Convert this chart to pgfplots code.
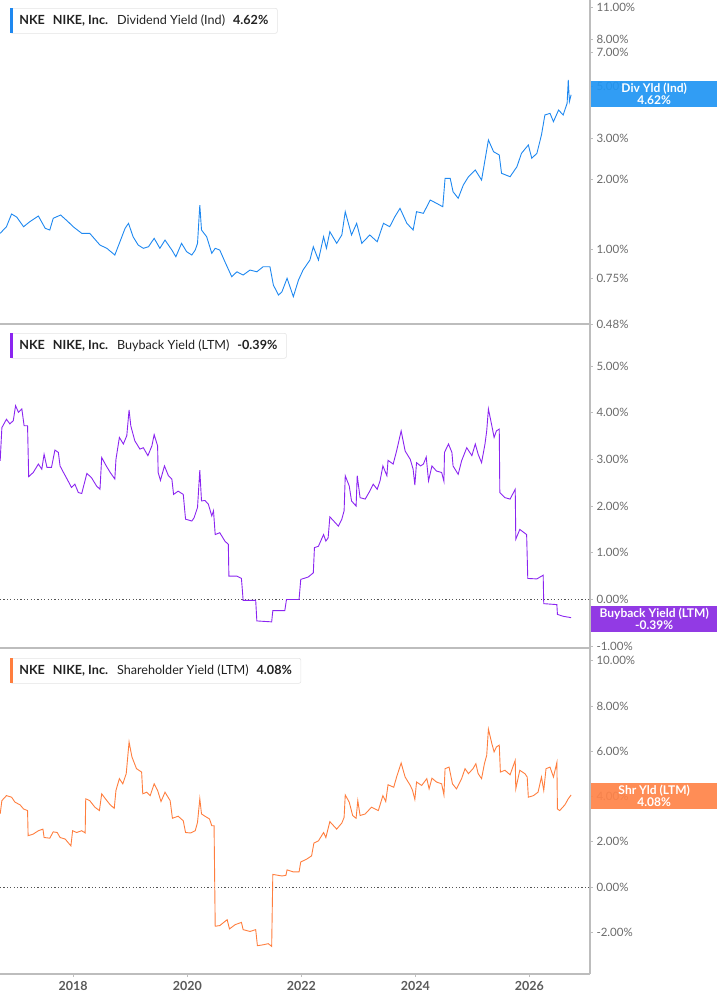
\documentclass[border=0pt]{standalone}
\usepackage{pgfplots}
\pgfplotsset{compat=1.18}
\usepackage{fontspec}
\setmainfont{Lato}

\definecolor{cdiv}{HTML}{1E88F0}
\definecolor{cdivlab}{HTML}{2196F3}
\definecolor{cbuy}{HTML}{8B25F0}
\definecolor{cbuylab}{HTML}{8A2BE2}
\definecolor{cshr}{HTML}{FF7E3E}
\definecolor{cshrlab}{HTML}{FF8449}
\definecolor{axgray}{HTML}{BDBDBD}
\definecolor{lblgray}{HTML}{6B6B6B}
\definecolor{yeargray}{HTML}{5A5A5A}
\definecolor{boxgray}{HTML}{E4E4E4}
\definecolor{txtdark}{HTML}{222222}
\definecolor{zgray}{HTML}{555555}

\pgfplotsset{
  panel/.style={
    scale only axis, width=590pt,
    xmin=2016.717, xmax=2027.061,
    axis x line*=bottom, axis y line*=right,
    axis line style={draw=axgray, line width=1.2pt},
    ytick pos=right, tick align=outside, major tick length=3pt,
    tick style={draw=axgray, line width=0.8pt},
    yticklabel style={font=\fontsize{11.5}{13}\selectfont, text=lblgray, anchor=west},
    xtick=\empty, yminorticks=false,
  },
  zero/.style={line width=0.8pt, color=zgray, dash pattern=on 1.2pt off 2.2pt},
}
\tikzset{
  legbox/.style={draw=boxgray, fill=white, rounded corners=2pt, line width=0.6pt,
    minimum height=25pt, inner xsep=9pt, inner ysep=0pt,
    font=\fontsize{12.6}{14}\selectfont, text=txtdark},
  valbox/.style={anchor=north west, inner sep=0pt, minimum width=127pt, minimum height=26pt,
    text=white, align=center, font=\bfseries\fontsize{12}{12}\selectfont, fill opacity=0.93, text opacity=1},
}

\begin{document}
\begin{tikzpicture}
\useasboundingbox (0,0) rectangle (717pt,-1005pt);

% dividend yield
\begin{axis}[panel, at={(0pt,-324pt)}, anchor=south west, height=324pt,
  ymode=log, ymin=0.48, ymax=11.79,
  ytick={0.48,0.75,1,2,3,5,7,8,11},
  yticklabels={0.48\%,0.75\%,1.00\%,2.00\%,3.00\%,5.00\%,7.00\%,8.00\%,11.00\%}]
\addplot[cdiv, line width=0.9pt] coordinates {
(2016.72,1.176)(2016.83,1.255)(2016.92,1.423)(2017.01,1.381)(2017.13,1.255)(2017.24,1.319)(2017.39,1.395)(2017.51,1.235)(2017.59,1.215)(2017.65,1.364)(2017.78,1.409)(2017.91,1.319)(2018.00,1.255)(2018.15,1.176)(2018.29,1.176)(2018.47,1.047)(2018.59,1.014)(2018.73,0.949)(2018.82,1.082)(2018.91,1.235)(2018.97,1.298)(2019.05,1.137)(2019.14,1.047)(2019.23,1.014)(2019.32,1.030)(2019.42,1.119)(2019.52,1.014)(2019.61,1.100)(2019.73,0.997)(2019.80,0.933)(2019.90,1.065)(2019.99,0.980)(2020.08,0.949)(2020.14,0.997)(2020.18,1.065)(2020.22,1.555)(2020.25,1.215)(2020.34,1.137)(2020.43,0.965)(2020.49,1.014)(2020.57,0.997)(2020.66,0.888)(2020.78,0.766)(2020.87,0.804)(2020.98,0.779)(2021.10,0.818)(2021.22,0.804)(2021.33,0.845)(2021.45,0.845)(2021.51,0.705)(2021.60,0.639)(2021.66,0.660)(2021.75,0.754)(2021.86,0.629)(2021.95,0.741)(2022.03,0.818)(2022.15,0.903)(2022.21,1.030)(2022.30,0.903)(2022.39,1.137)(2022.44,1.014)(2022.50,1.195)(2022.62,1.065)(2022.71,1.157)(2022.77,1.456)(2022.88,1.157)(2022.97,1.298)(2023.06,1.065)(2023.20,1.157)(2023.33,1.082)(2023.44,1.298)(2023.55,1.255)(2023.64,1.386)(2023.73,1.505)(2023.85,1.298)(2023.96,1.215)(2024.02,1.456)(2024.14,1.433)(2024.26,1.634)(2024.37,1.582)(2024.48,1.529)(2024.52,2.025)(2024.61,2.025)(2024.66,1.774)(2024.75,1.662)(2024.84,1.895)(2024.93,2.057)(2025.05,2.198)(2025.16,1.991)(2025.28,2.957)(2025.37,2.634)(2025.47,2.550)(2025.51,2.128)(2025.66,2.057)(2025.78,2.271)(2025.86,2.593)(2025.98,2.815)(2026.04,2.468)(2026.13,2.593)(2026.21,3.107)(2026.27,3.785)(2026.36,3.849)(2026.42,3.543)(2026.51,3.977)(2026.59,3.785)(2026.66,4.250)(2026.68,5.350)(2026.70,4.318)(2026.73,4.62)
};
\end{axis}

% buyback yield
\begin{axis}[panel, at={(0pt,-648pt)}, anchor=south west, height=324pt,
  ymin=-1.04, ymax=5.9,
  ytick={-1,0,1,2,3,4,5},
  yticklabels={-1.00\%,0.00\%,1.00\%,2.00\%,3.00\%,4.00\%,5.00\%}]
\addplot[zero] coordinates {(2016.717,0)(2027.061,0)};
\addplot[cbuy, line width=0.9pt] coordinates {
(2016.72,2.97)(2016.75,3.68)(2016.83,3.86)(2016.89,3.76)(2016.95,3.83)(2016.99,4.15)(2017.04,4.01)(2017.10,4.08)(2017.14,3.72)(2017.20,3.72)(2017.22,2.63)(2017.30,2.72)(2017.39,2.90)(2017.45,2.79)(2017.49,3.11)(2017.54,2.83)(2017.62,2.83)(2017.68,3.20)(2017.74,3.15)(2017.77,2.86)(2017.83,2.72)(2017.91,2.54)(2017.97,2.40)(2018.03,2.47)(2018.09,2.29)(2018.15,2.27)(2018.24,2.70)(2018.32,2.61)(2018.41,2.43)(2018.47,2.36)(2018.50,3.04)(2018.58,2.86)(2018.65,2.72)(2018.73,2.58)(2018.75,3.00)(2018.81,3.47)(2018.88,3.33)(2018.94,3.51)(2018.98,4.06)(2019.01,3.72)(2019.08,3.40)(2019.17,3.22)(2019.23,3.25)(2019.31,3.08)(2019.38,3.29)(2019.42,3.53)(2019.48,3.29)(2019.49,2.72)(2019.53,2.55)(2019.60,2.86)(2019.67,2.65)(2019.73,2.58)(2019.76,2.25)(2019.84,2.32)(2019.93,2.25)(2019.97,1.72)(2020.08,1.68)(2020.12,1.75)(2020.18,1.97)(2020.22,2.77)(2020.25,2.11)(2020.31,2.12)(2020.37,2.04)(2020.43,1.79)(2020.46,1.90)(2020.49,1.39)(2020.57,1.43)(2020.66,1.25)(2020.72,1.18)(2020.73,0.50)(2020.87,0.50)(2020.95,0.45)(2020.98,-0.02)(2021.20,-0.02)(2021.22,-0.46)(2021.48,-0.48)(2021.50,-0.24)(2021.71,-0.24)(2021.74,0.00)(2021.96,0.00)(2021.99,0.43)(2022.12,0.48)(2022.21,0.57)(2022.23,1.11)(2022.30,1.14)(2022.39,1.39)(2022.43,1.25)(2022.47,1.32)(2022.50,1.77)(2022.59,1.65)(2022.65,1.57)(2022.71,1.72)(2022.75,1.90)(2022.77,2.65)(2022.84,2.43)(2022.88,2.11)(2022.96,2.00)(2022.98,2.65)(2023.03,2.18)(2023.12,2.15)(2023.20,2.32)(2023.26,2.47)(2023.33,2.36)(2023.38,2.54)(2023.43,2.86)(2023.50,2.65)(2023.52,2.98)(2023.61,2.90)(2023.67,3.18)(2023.75,3.61)(2023.82,3.18)(2023.91,3.00)(2023.96,2.79)(2023.99,2.45)(2024.02,2.93)(2024.09,2.86)(2024.14,2.90)(2024.19,3.05)(2024.23,2.54)(2024.29,2.86)(2024.37,2.75)(2024.46,2.72)(2024.50,2.53)(2024.51,3.15)(2024.58,3.33)(2024.64,3.15)(2024.66,2.86)(2024.75,2.68)(2024.81,2.97)(2024.90,3.25)(2024.99,3.08)(2025.05,3.33)(2025.10,3.11)(2025.16,2.93)(2025.22,3.33)(2025.25,3.61)(2025.28,4.08)(2025.34,3.72)(2025.38,3.47)(2025.42,3.61)(2025.47,3.65)(2025.48,2.29)(2025.57,2.18)(2025.66,2.15)(2025.75,2.36)(2025.76,1.29)(2025.83,1.50)(2025.95,1.39)(2025.97,0.45)(2026.13,0.44)(2026.24,0.52)(2026.25,-0.09)(2026.48,-0.11)(2026.49,-0.32)(2026.59,-0.36)(2026.73,-0.39)
};
\end{axis}

% shareholder yield
\begin{axis}[panel, at={(0pt,-974pt)}, anchor=south west, height=326pt,
  ymin=-3.84, ymax=10.56,
  ytick={-2,0,2,4,6,8,10},
  yticklabels={-2.00\%,0.00\%,2.00\%,4.00\%,6.00\%,8.00\%,10.00\%},
  xtick={2018,2020,2022,2024,2026},
  xticklabels={2018,2020,2022,2024,2026},
  xticklabel style={font=\bfseries\fontsize{12.5}{14}\selectfont, text=yeargray, yshift=-1pt}]
\addplot[zero] coordinates {(2016.717,0)(2027.061,0)};
\addplot[cshr, line width=0.9pt] coordinates {
(2016.72,3.23)(2016.75,3.82)(2016.83,4.04)(2016.92,3.97)(2016.98,3.75)(2017.07,3.63)(2017.13,3.45)(2017.20,3.38)(2017.21,2.27)(2017.30,2.34)(2017.39,2.49)(2017.47,2.56)(2017.49,2.19)(2017.59,2.16)(2017.65,2.44)(2017.72,2.41)(2017.77,2.19)(2017.86,2.12)(2017.91,1.97)(2017.96,1.82)(2017.99,2.49)(2018.06,2.41)(2018.15,2.49)(2018.21,2.39)(2018.22,3.90)(2018.29,3.82)(2018.38,3.53)(2018.46,3.38)(2018.50,4.12)(2018.59,3.82)(2018.65,3.63)(2018.72,3.48)(2018.75,4.27)(2018.81,4.79)(2018.87,4.56)(2018.93,5.01)(2018.98,6.41)(2019.03,5.75)(2019.11,5.23)(2019.20,5.08)(2019.22,4.12)(2019.29,4.19)(2019.35,4.04)(2019.42,4.56)(2019.48,4.27)(2019.54,3.78)(2019.61,4.19)(2019.70,3.82)(2019.74,3.04)(2019.84,3.13)(2019.93,2.93)(2019.97,2.41)(2020.06,2.39)(2020.14,2.49)(2020.18,2.86)(2020.22,3.90)(2020.25,3.23)(2020.31,3.13)(2020.39,3.01)(2020.43,2.71)(2020.47,2.71)(2020.49,-1.73)(2020.57,-1.70)(2020.70,-1.44)(2020.74,-1.85)(2020.84,-1.66)(2020.95,-1.56)(2020.98,-1.88)(2021.10,-1.96)(2021.20,-1.88)(2021.23,-2.59)(2021.33,-2.55)(2021.42,-2.50)(2021.48,-2.62)(2021.50,0.56)(2021.66,0.49)(2021.73,0.52)(2021.75,0.76)(2021.86,0.67)(2021.96,0.67)(2021.99,1.11)(2022.09,1.23)(2022.18,1.38)(2022.22,1.94)(2022.30,2.04)(2022.39,2.41)(2022.43,2.19)(2022.50,2.89)(2022.62,2.56)(2022.71,2.83)(2022.75,3.08)(2022.77,4.07)(2022.84,3.75)(2022.90,3.16)(2022.96,3.04)(2022.99,3.82)(2023.03,3.16)(2023.12,3.23)(2023.23,3.53)(2023.35,3.38)(2023.43,4.04)(2023.48,3.78)(2023.52,4.52)(2023.62,4.41)(2023.67,4.86)(2023.75,5.48)(2023.82,4.86)(2023.91,4.49)(2023.95,4.27)(2023.99,3.87)(2024.02,4.64)(2024.11,4.49)(2024.20,4.79)(2024.24,4.34)(2024.29,4.81)(2024.37,4.64)(2024.46,4.56)(2024.50,4.07)(2024.52,5.23)(2024.59,5.30)(2024.65,4.56)(2024.72,4.34)(2024.81,4.79)(2024.87,5.23)(2024.93,5.01)(2025.01,5.23)(2025.06,5.45)(2025.10,5.01)(2025.16,4.79)(2025.21,5.45)(2025.25,5.82)(2025.28,6.98)(2025.34,6.34)(2025.38,5.97)(2025.42,6.19)(2025.47,6.27)(2025.49,5.08)(2025.57,5.16)(2025.66,4.96)(2025.75,5.60)(2025.76,4.34)(2025.83,5.16)(2025.92,5.01)(2025.96,4.86)(2025.98,3.97)(2026.07,4.04)(2026.15,4.19)(2026.21,4.86)(2026.25,4.27)(2026.29,5.23)(2026.36,5.30)(2026.42,4.86)(2026.48,5.50)(2026.49,3.45)(2026.53,3.38)(2026.62,3.63)(2026.68,3.90)(2026.73,4.07)
};
\end{axis}

% series boxes, top left of each panel
\node[legbox, anchor=north west] (L1) at (10pt,-8pt)
  {\textbf{NKE}\hspace{8pt}\textbf{NIKE, Inc.}\hspace{9pt}Dividend Yield (Ind)\hspace{8pt}\textbf{4.62\%}};
\fill[cdiv] ([yshift=-0.3pt]L1.north west) rectangle ([xshift=3pt,yshift=0.3pt]L1.south west);
\node[legbox, anchor=north west] (L2) at (10pt,-333pt)
  {\textbf{NKE}\hspace{8pt}\textbf{NIKE, Inc.}\hspace{9pt}Buyback Yield (LTM)\hspace{8pt}\textbf{-0.39\%}};
\fill[cbuy] ([yshift=-0.3pt]L2.north west) rectangle ([xshift=3pt,yshift=0.3pt]L2.south west);
\node[legbox, anchor=north west] (L3) at (10pt,-658pt)
  {\textbf{NKE}\hspace{8pt}\textbf{NIKE, Inc.}\hspace{9pt}Shareholder Yield (LTM)\hspace{8pt}\textbf{4.08\%}};
\fill[cshr] ([yshift=-0.3pt]L3.north west) rectangle ([xshift=3pt,yshift=0.3pt]L3.south west);

% last value boxes on the right axis
\node[valbox, fill=cdivlab] at (590.5pt,-81pt) {Div Yld (Ind)\\4.62\%};
\node[valbox, fill=cbuylab] at (590.5pt,-606pt) {Buyback Yield (LTM)\\-0.39\%};
\node[valbox, fill=cshrlab] at (590.5pt,-783pt) {Shr Yld (LTM)\\4.08\%};
\end{tikzpicture}
\end{document}
